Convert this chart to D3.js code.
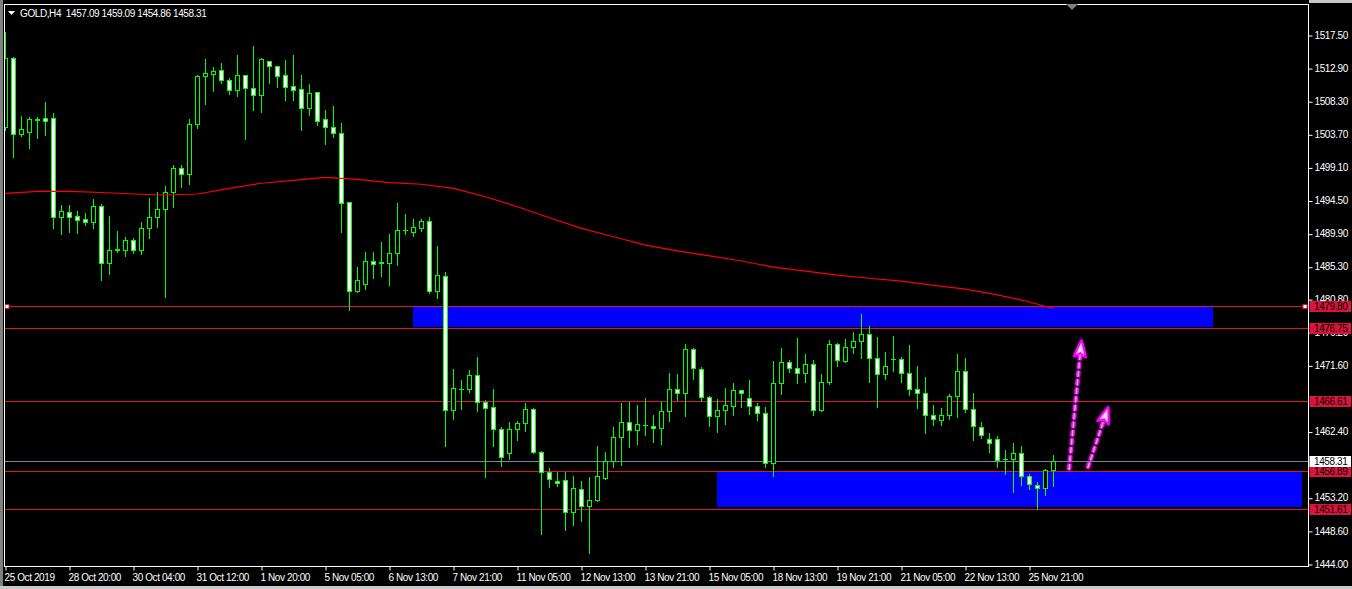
<!DOCTYPE html>
<html><head><meta charset="utf-8">
<script src="https://cdn.jsdelivr.net/npm/d3@7"></script>
<style>
html,body{margin:0;padding:0;background:#000;overflow:hidden}
svg{display:block}
text{font-family:"Liberation Sans",Arial,sans-serif;font-size:10px;letter-spacing:-0.4px;white-space:pre}
</style>
</head><body>
<svg id="chart" width="1352" height="589"></svg>
<script>
// ---- data (H4 bars, index 0 = first visible bar) ----
const opens = [1504.70,1514.26,1503.70,1504.06,1505.70,1505.97,1505.90,1492.25,1492.86,1492.30,
1491.90,1491.56,1493.70,1485.78,1487.63,1487.63,1489.02,1487.63,1490.64,1492.17,
1493.28,1495.64,1498.98,1498.14,1505.18,1511.76,1512.10,1512.60,1511.20,1509.82,
1511.90,1510.18,1509.12,1513.84,1513.15,1511.90,1510.37,1509.96,1507.40,1509.54,
1505.79,1504.68,1503.93,1494.25,1481.97,1482.94,1486.06,1485.90,1485.86,1487.17,
1490.36,1490.17,1490.73,1491.61,1481.97,1484.06,1465.40,1468.30,1468.36,1470.22,
1466.46,1465.77,1462.71,1459.38,1462.71,1463.55,1465.49,1459.60,1456.74,1455.60,
1455.63,1451.18,1454.37,1452.10,1452.85,1455.96,1458.27,1461.60,1463.69,1462.66,
1463.30,1463.13,1462.85,1465.21,1468.27,1467.72,1473.83,1471.05,1467.16,1464.52,
1465.35,1465.91,1468.13,1467.02,1465.91,1464.94,1457.99,1469.10,1472.02,1471.19,
1470.49,1471.74,1465.35,1469.24,1474.52,1472.16,1474.11,1474.94,1475.91,1472.58,
1470.35,1472.55,1472.44,1470.49,1468.27,1467.72,1464.66,1464.05,1464.66,1467.30,
1470.77,1465.58,1462.99,1461.32,1461.32,1458.60,1458.58,1459.38,1456.18,1454.93,
1454.51,1457.09];
const highs = [1517.96,1514.44,1506.20,1506.07,1506.07,1508.19,1506.60,1493.84,1493.84,1493.05,
1492.77,1494.71,1494.02,1492.35,1490.30,1489.43,1489.30,1491.52,1494.85,1495.68,
1496.52,1499.40,1499.40,1505.79,1511.94,1514.17,1513.05,1513.60,1511.48,1514.72,
1511.95,1515.97,1514.26,1513.90,1513.20,1514.03,1514.72,1511.94,1510.69,1509.60,
1507.08,1507.63,1505.27,1494.30,1485.26,1487.30,1487.30,1488.74,1489.85,1494.16,
1492.63,1491.90,1491.93,1492.21,1488.14,1484.53,1471.09,1469.56,1470.91,1472.82,
1466.78,1468.31,1463.03,1463.69,1463.87,1466.37,1465.63,1459.74,1457.34,1456.78,
1456.78,1456.23,1455.53,1456.09,1460.39,1459.56,1463.03,1466.37,1466.50,1466.09,
1467.06,1464.70,1466.50,1470.52,1470.40,1474.57,1473.97,1471.33,1467.30,1466.92,
1468.45,1469.15,1468.20,1469.56,1466.33,1465.77,1472.20,1473.97,1472.34,1475.36,
1473.18,1472.30,1470.35,1475.08,1474.66,1475.22,1476.23,1478.73,1477.07,1475.54,
1473.45,1475.68,1472.72,1474.43,1471.51,1470.00,1466.05,1465.67,1467.58,1473.18,
1472.58,1467.76,1463.73,1462.24,1461.78,1459.84,1460.77,1460.39,1456.50,1455.39,
1457.16,1459.09];
const lows = [1504.30,1500.55,1503.40,1501.84,1503.20,1503.60,1490.70,1489.90,1490.13,1490.00,
1491.10,1490.68,1483.46,1484.30,1487.30,1486.83,1487.25,1487.10,1489.34,1490.86,
1481.05,1493.64,1496.42,1496.84,1504.62,1507.95,1509.76,1510.87,1509.34,1509.07,
1503.09,1507.12,1506.84,1510.87,1510.32,1508.47,1508.47,1504.30,1506.38,1505.00,
1502.35,1503.37,1490.13,1479.29,1481.79,1482.25,1483.78,1484.01,1482.76,1485.54,
1489.89,1489.57,1490.30,1481.69,1481.00,1460.44,1464.14,1465.53,1467.90,1465.30,
1456.13,1460.44,1457.66,1458.63,1461.27,1462.52,1459.46,1448.17,1454.74,1454.88,
1448.72,1449.46,1450.00,1445.57,1452.80,1455.77,1457.52,1457.80,1460.30,1460.71,
1461.96,1460.99,1460.71,1463.91,1466.74,1464.60,1469.66,1466.60,1463.13,1462.38,
1463.49,1464.74,1465.85,1464.88,1464.05,1457.43,1456.27,1467.66,1470.72,1469.10,
1469.33,1464.74,1465.21,1468.97,1471.47,1472.02,1473.36,1472.66,1469.33,1465.85,
1469.74,1470.86,1469.33,1467.48,1465.71,1462.24,1463.35,1463.35,1464.19,1464.46,
1465.16,1461.27,1461.55,1459.60,1457.52,1456.46,1454.04,1455.02,1454.38,1451.68,
1453.63,1454.86];
const closes = [1514.26,1503.70,1504.40,1505.80,1505.80,1505.60,1492.25,1493.00,1492.25,1491.84,
1491.56,1493.74,1485.78,1487.63,1487.70,1489.02,1487.63,1490.64,1492.17,1493.28,
1495.64,1498.98,1498.14,1505.18,1511.76,1512.18,1512.46,1511.20,1509.82,1511.90,
1510.18,1509.12,1514.12,1513.15,1511.84,1510.32,1509.90,1507.40,1509.40,1505.60,
1504.68,1503.93,1494.20,1481.97,1483.42,1486.06,1485.72,1485.87,1487.17,1490.36,
1490.40,1490.78,1491.61,1481.97,1484.11,1465.40,1468.41,1468.35,1470.22,1466.46,
1465.72,1462.71,1458.91,1462.71,1463.55,1465.49,1459.60,1456.74,1455.77,1455.30,
1451.18,1454.51,1452.10,1452.85,1456.18,1458.27,1461.60,1463.69,1462.66,1463.41,
1463.32,1462.85,1465.21,1468.27,1467.72,1473.83,1471.19,1467.16,1464.52,1465.35,
1466.05,1468.13,1467.72,1465.91,1464.94,1457.99,1469.10,1472.02,1471.19,1470.49,
1471.74,1465.35,1469.24,1474.52,1472.30,1474.11,1474.94,1475.91,1472.58,1470.35,
1471.47,1472.52,1470.49,1468.27,1467.72,1464.66,1464.19,1464.66,1467.30,1470.77,
1465.58,1463.13,1461.96,1460.85,1458.49,1458.58,1459.38,1456.18,1455.07,1454.51,
1457.09,1458.31];

// moving average (sampled every 4 bars)
const maBars   = [0,4,8,12,16,20,24,28,32,36,40,44,48,52,56,60,64,68,72,76,80,84,88,92,96,100,104,108,112,116,120,124,128,131];
const maValues = [1495.50,1495.78,1495.78,1495.62,1495.41,1495.27,1495.41,1496.20,1496.90,1497.31,1497.73,1497.45,1496.98,1496.76,1496.20,1495.03,1493.64,1492.11,1490.64,1489.47,1488.30,1487.50,1486.80,1486.10,1485.26,1484.70,1484.15,1483.70,1483.30,1482.70,1482.20,1481.40,1480.40,1479.50];

const xTickBars   = [0,8,16,24,32,40,48,56,64,72,80,88,96,104,112,120,128];
const xTickLabels = ["25 Oct 2019","28 Oct 20:00","30 Oct 04:00","31 Oct 12:00","1 Nov 20:00","5 Nov 05:00","6 Nov 13:00","7 Nov 21:00","11 Nov 05:00","12 Nov 13:00","13 Nov 21:00","15 Nov 05:00","18 Nov 13:00","19 Nov 21:00","21 Nov 05:00","22 Nov 13:00","25 Nov 21:00"];
// visible price-scale labels (1467.00 and 1457.80 are hidden behind level labels)
const yTickValues = [1517.50,1512.90,1508.30,1503.70,1499.10,1494.50,1489.90,1485.30,1480.80,1476.20,1471.60,1462.40,1453.20,1448.60,1444.00];

const levelValues  = [1479.80,1476.75,1466.61,1456.89,1451.61];
const currentPrice = 1458.31;
const zoneBarStart = [50.94, 88.94];
const zoneBarEnd   = [150.94, 162.06];
const zoneTop      = [1479.65, 1456.75];
const zoneBottom   = [1476.95, 1451.95];
const arrowFromBar   = [132.94, 135.27];
const arrowFromPrice = [1457.06, 1457.30];
const arrowToBar     = [134.50, 137.85];
const arrowToPrice   = [1475.12, 1465.85];
const titleText = "GOLD,H4  1457.09 1459.09 1454.86 1458.31";

// ---- drawing ----
const svg = d3.select("#chart");
const W = 1352, H = 589;
const plotL = 4.5, plotR = 1308.5, plotT = 4.5, plotB = 566.5;
const crimson = "#dc143c";
const FONT = "Liberation Sans, Arial, sans-serif";

const x = d3.scaleLinear().domain([0, 131]).range([5.5, 1053.5]);
const y = d3.scaleLinear().domain([1444.0, 1517.5]).range([564, 35]);

svg.append("rect").attr("width", W).attr("height", H).attr("fill", "#000");
svg.append("rect").attr("x", 0).attr("y", 0).attr("width", 3).attr("height", H).attr("fill", "#808080");
svg.append("rect").attr("x", 0).attr("y", 586).attr("width", W).attr("height", 3).attr("fill", "#c8c8c8");
svg.append("rect").attr("x", plotR + 0.5).attr("y", 0).attr("width", W - plotR).attr("height", 3).attr("fill", "#c8c8c8");

svg.append("defs").append("clipPath").attr("id", "plotclip")
  .append("rect").attr("x", plotL + 0.5).attr("y", plotT + 0.5)
  .attr("width", plotR - plotL - 1).attr("height", plotB - plotT - 1);

const g = svg.append("g").attr("clip-path", "url(#plotclip)");

// zones
zoneBarStart.forEach((s, i) => {
  const x0 = Math.round(x(s)), x1 = Math.round(x(zoneBarEnd[i]));
  const y0 = Math.round(y(zoneTop[i])), y1 = Math.round(y(zoneBottom[i]));
  g.append("rect").attr("x", x0).attr("y", y0).attr("width", x1 - x0).attr("height", y1 - y0).attr("fill", "#0000ff");
});

// horizontal levels
levelValues.forEach(v => {
  const yy = Math.round(y(v)) + 0.5;
  g.append("line").attr("x1", plotL).attr("x2", plotR).attr("y1", yy).attr("y2", yy)
    .attr("stroke", crimson).attr("stroke-width", 1);
});
const cpY = Math.round(y(currentPrice)) + 0.5;
g.append("line").attr("x1", plotL).attr("x2", plotR).attr("y1", cpY).attr("y2", cpY)
  .attr("stroke", "#778899").attr("stroke-width", 1);

// candles
const green = "#00ff00";
const bars = d3.range(opens.length);
const cg = g.append("g");
bars.forEach(i => {
  const o = opens[i], h = highs[i], l = lows[i], c = closes[i];
  const cx = Math.round(x(i) - 0.5) + 0.5;
  cg.append("line").attr("x1", cx).attr("x2", cx)
    .attr("y1", Math.round(y(h))).attr("y2", Math.round(y(l)) + 1)
    .attr("stroke", green).attr("stroke-width", 1);
  const yT = Math.round(y(Math.max(o, c))) + 0.5;
  const yB = Math.round(y(Math.min(o, c))) + 0.5;
  if (yB - yT < 1) {
    cg.append("line").attr("x1", cx - 2.5).attr("x2", cx + 2.5).attr("y1", yT).attr("y2", yT)
      .attr("stroke", green).attr("stroke-width", 1);
  } else {
    cg.append("rect").attr("x", cx - 2).attr("y", yT).attr("width", 4).attr("height", yB - yT)
      .attr("fill", c >= o ? "#000" : "#fff").attr("stroke", green).attr("stroke-width", 1);
  }
});

// moving average
const maPts = maBars.map((b, i) => [b, maValues[i]]);
g.append("path").datum(maPts)
  .attr("d", d3.line().x(d => x(d[0])).y(d => y(d[1])))
  .attr("fill", "none").attr("stroke", "#ff0000").attr("stroke-width", 1.2);

// handles on selected line
const selY = Math.round(y(levelValues[0])) + 0.5;
[7, 1305].forEach(hx => {
  g.append("rect").attr("x", hx - 2).attr("y", selY - 2).attr("width", 4).attr("height", 4)
    .attr("fill", "#fff").attr("stroke", crimson).attr("stroke-width", 1);
});

// arrows
const defs = svg.select("defs");
const glow = defs.append("filter").attr("id", "glow").attr("x", "-50%").attr("y", "-50%").attr("width", "200%").attr("height", "200%");
glow.append("feGaussianBlur").attr("stdDeviation", 1.6).attr("result", "b");
const fm = glow.append("feMerge");
fm.append("feMergeNode").attr("in", "b");
fm.append("feMergeNode").attr("in", "SourceGraphic");

arrowFromBar.forEach((fb, i) => {
  const x1 = x(fb), y1 = y(arrowFromPrice[i]);
  const x2 = x(arrowToBar[i]), y2 = y(arrowToPrice[i]);
  const dx = x2 - x1, dy = y2 - y1, len = Math.hypot(dx, dy);
  const ux = dx / len, uy = dy / len;
  const ex = x2 - ux * 13, ey = y2 - uy * 13;
  const ag = g.append("g").attr("filter", "url(#glow)");
  ag.append("line").attr("x1", x1).attr("y1", y1).attr("x2", ex).attr("y2", ey)
    .attr("stroke", "#ff00ff").attr("stroke-width", 3.6).attr("stroke-dasharray", "6,2.5");
  ag.append("line").attr("x1", x1).attr("y1", y1).attr("x2", ex).attr("y2", ey)
    .attr("stroke", "#ffb0ff").attr("stroke-width", 1.2).attr("stroke-dasharray", "6,2.5");
  const ang = Math.atan2(dx, -dy) * 180 / Math.PI;
  ag.append("path").attr("d", "M0,0 L6,17 L0,13 L-6,17 Z")
    .attr("transform", `translate(${x2},${y2}) rotate(${ang})`)
    .attr("fill", "#ffd0ff").attr("stroke", "#ff00ff").attr("stroke-width", 1.8).attr("stroke-linejoin", "round");
});

// frame
svg.append("rect").attr("x", plotL).attr("y", plotT).attr("width", plotR - plotL).attr("height", plotB - plotT)
  .attr("fill", "none").attr("stroke", "#fff").attr("stroke-width", 1);

// shift marker
svg.append("path").attr("d", "M1066,4 L1078,4 L1072,10 Z").attr("fill", "#808080");

// title
svg.append("path").attr("d", "M8,11 L15,11 L11.5,15 Z").attr("fill", "#fff");
svg.append("text").attr("x", 20).attr("y", 16.5).attr("fill", "#fff").attr("xml:space", "preserve").text(titleText);

// y axis
const yAxis = svg.append("g").attr("transform", `translate(${plotR},0)`)
  .call(d3.axisRight(y).tickValues(yTickValues).tickFormat(d3.format(".2f")).tickSize(4).tickPadding(2));
yAxis.select(".domain").remove();
yAxis.selectAll("line").attr("stroke", "#fff").attr("transform", "translate(0,0.5)");
yAxis.selectAll("text").attr("fill", "#fff").style("font-family", FONT).style("font-size", "10px");

// x axis
const xAxis = svg.append("g").attr("transform", `translate(0,${plotB})`)
  .call(d3.axisBottom(x).tickValues(xTickBars).tickFormat((d, i) => xTickLabels[i]).tickSize(4).tickPadding(3));
xAxis.select(".domain").remove();
xAxis.selectAll("line").attr("stroke", "#fff");
xAxis.selectAll("text").attr("fill", "#fff").attr("text-anchor", "start").attr("dx", -1.5)
  .style("font-family", FONT).style("font-size", "10px");

// price labels on the right
function priceLabel(v, bg) {
  const yy = Math.round(y(v));
  svg.append("rect").attr("x", plotR + 1).attr("y", yy - 5).attr("width", W - plotR - 2).attr("height", 11).attr("fill", bg);
  svg.append("text").attr("x", plotR + 5.5).attr("y", yy + 4).attr("fill", "#000").text(d3.format(".2f")(v));
}
levelValues.forEach(v => priceLabel(v, crimson));
priceLabel(currentPrice, "#fff");
</script>
</body></html>
